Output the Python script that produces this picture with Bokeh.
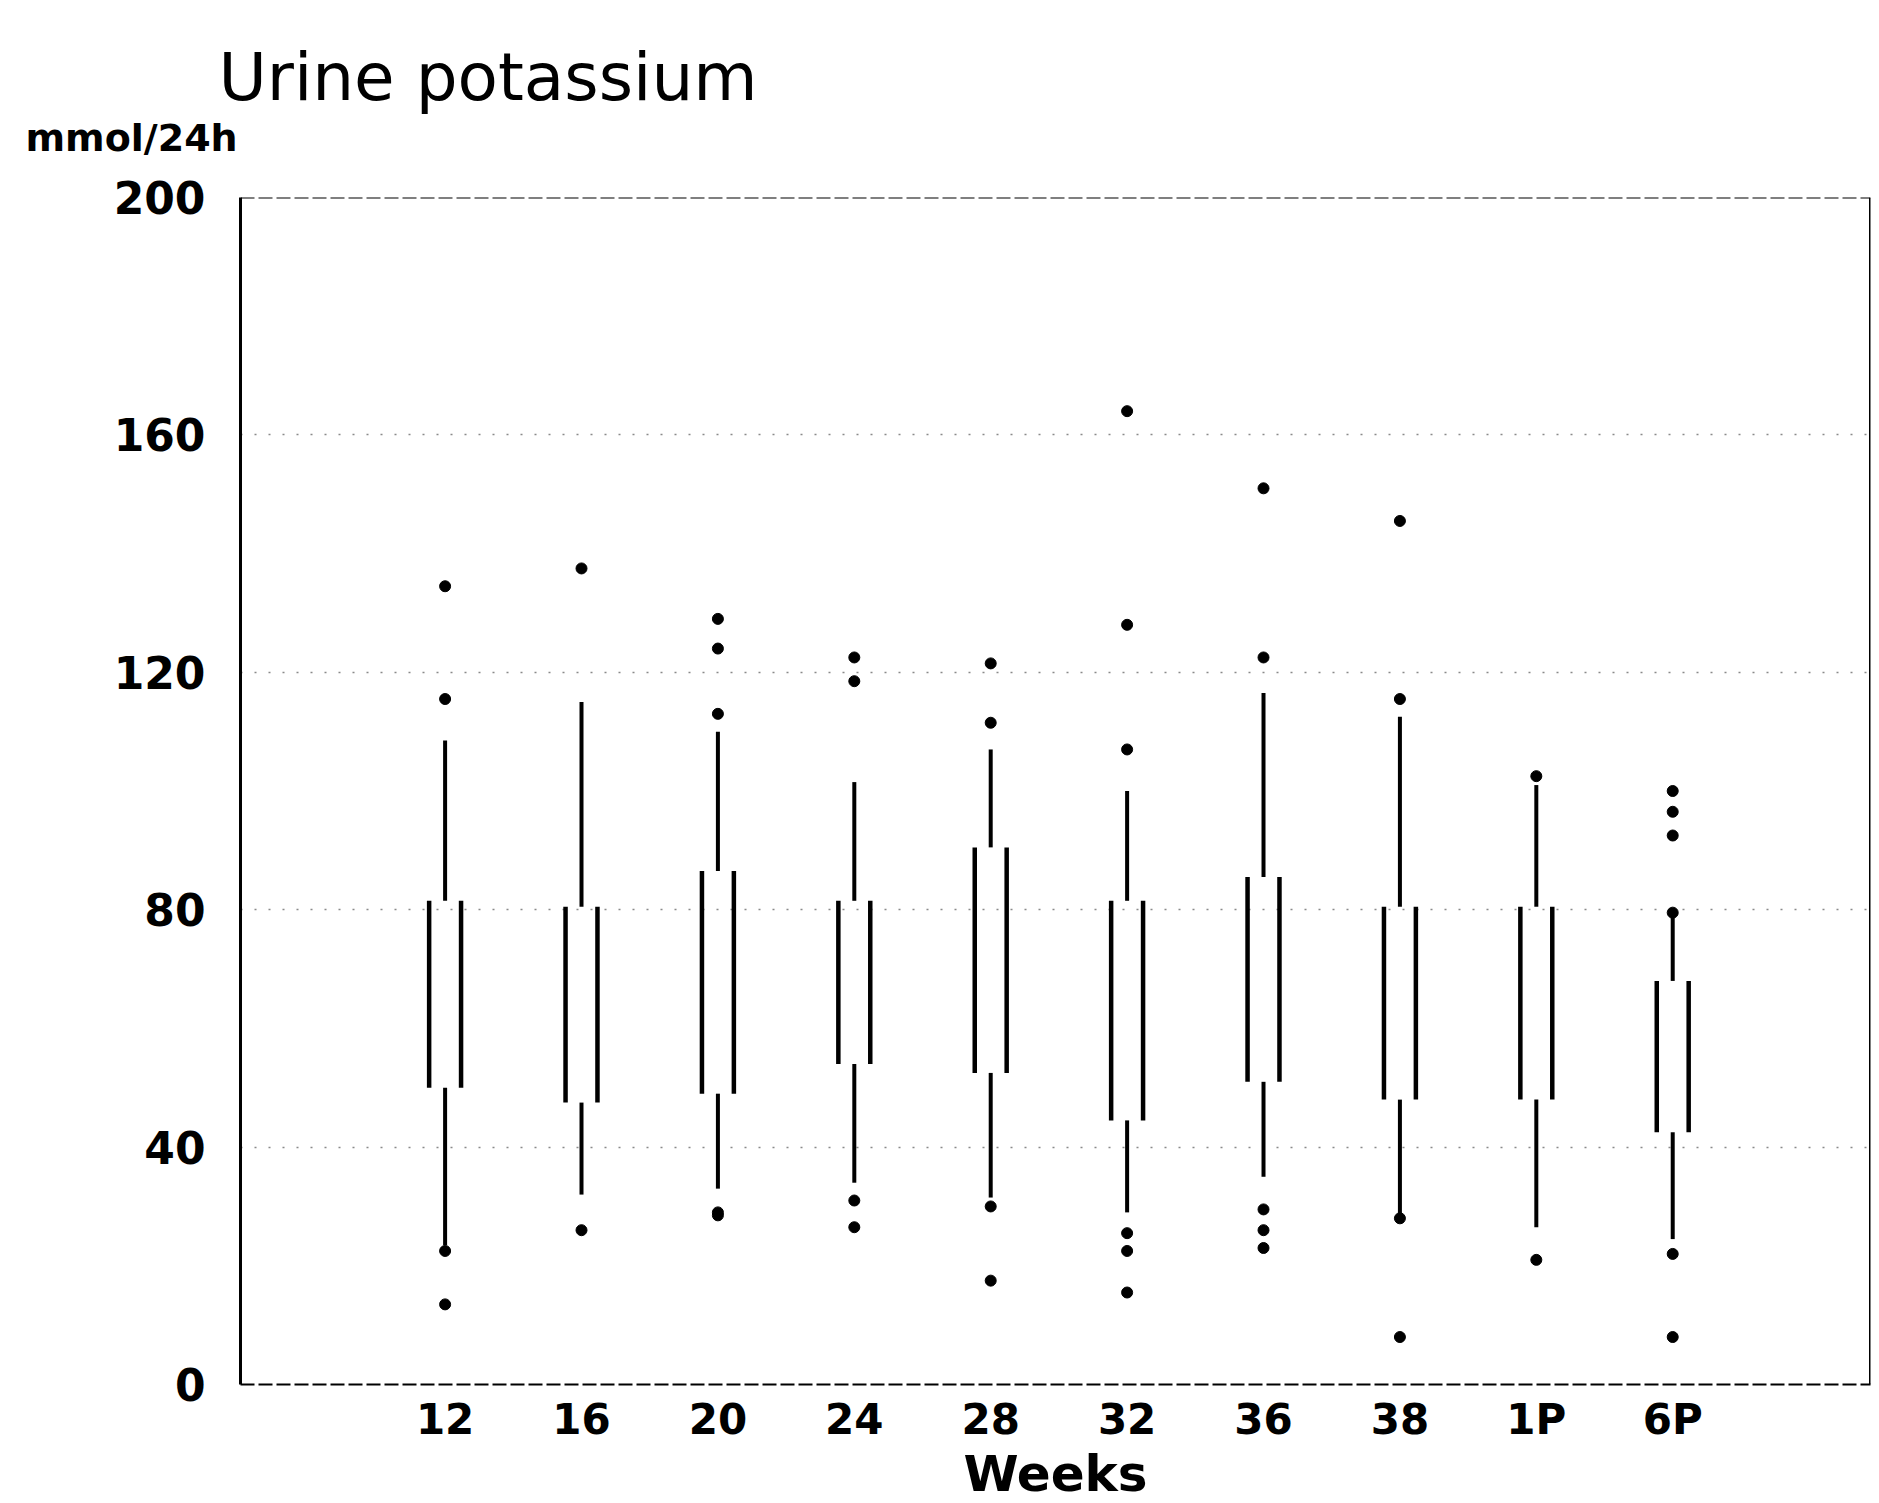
from bokeh.plotting import figure
from bokeh.models import FixedTicker, Span, ColumnDataSource, Title
from bokeh.embed import file_html
from bokeh.resources import INLINE

# ---- data ----
weeks = ["12", "16", "20", "24", "28", "32", "36", "38", "1P", "6P"]
whisker_low = [23.5, 32, 33, 34, 31.5, 29, 35, 28.5, 26.5, 24.5]
q1 = [50, 47.5, 49, 54, 52.5, 44.5, 51, 48, 48, 42.5]
median = [63, 63, 64, 63.5, 63, 62, 66, 64.5, 63, 61]
q3 = [81.5, 80.5, 86.5, 81.5, 90.5, 81.5, 85.5, 80.5, 80.5, 68]
whisker_high = [108.5, 115, 110, 101.5, 107, 100, 116.5, 112.5, 101, 80]

outlier_week = ["12", "12", "12", "12",
                "16", "16",
                "20", "20", "20", "20", "20",
                "24", "24", "24", "24",
                "28", "28", "28", "28",
                "32", "32", "32", "32", "32", "32",
                "36", "36", "36", "36", "36",
                "38", "38", "38", "38",
                "1P", "1P",
                "6P", "6P", "6P", "6P", "6P", "6P"]
outlier_value = [134.5, 115.5, 22.5, 13.5,
                 137.5, 26,
                 129, 124, 113, 29, 28.5,
                 122.5, 118.5, 31, 26.5,
                 121.5, 111.5, 30, 17.5,
                 164, 128, 107, 25.5, 22.5, 15.5,
                 151, 122.5, 29.5, 26, 23,
                 145.5, 115.5, 28, 8,
                 102.5, 21,
                 100, 96.5, 92.5, 79.5, 22, 8]

y_ticks = [0, 40, 80, 120, 160, 200]

FONT = "DejaVu Sans"
pos = {w: i + 1 for i, w in enumerate(weeks)}
xs = [pos[w] for w in weeks]
half = 0.117

p = figure(frame_width=1630, frame_height=1187, x_range=(-0.5, 11.45), y_range=(0, 200),
           output_backend="svg", toolbar_location=None, title=None,
           min_border_left=240, min_border_right=4, min_border_top=197,
           min_border_bottom=20)
p.outline_line_color = None
p.background_fill_color = "white"
p.border_fill_color = "white"

# titles (main title on top, unit line just above the frame)
unit_title = Title(text="mmol/24h", align="left", offset=-215,
                   vertical_align="top", text_font=FONT, text_font_size="38px",
                   text_font_style="bold", text_color="black", standoff=72)
main_title = Title(text="Urine potassium", align="left", offset=-22,
                   vertical_align="bottom", text_font=FONT, text_font_size="66px",
                   text_font_style="normal", text_color="black", standoff=-72)
p.above = [unit_title, main_title]

# axes
p.yaxis.ticker = FixedTicker(ticks=y_ticks)
p.yaxis.axis_line_width = 3
p.yaxis.axis_line_color = "black"
p.yaxis.major_tick_line_color = None
p.yaxis.minor_tick_line_color = None
p.yaxis.major_tick_out = 0
p.yaxis.major_tick_in = 0
p.yaxis.major_label_standoff = 35
p.yaxis.major_label_text_font = FONT
p.yaxis.major_label_text_font_size = "44px"
p.yaxis.major_label_text_font_style = "bold"
p.yaxis.major_label_text_color = "black"

p.xaxis.ticker = FixedTicker(ticks=xs)
p.xaxis.major_label_overrides = {pos[w]: w for w in weeks}
p.xaxis.axis_line_color = "black"
p.xaxis.axis_line_width = 2
p.xaxis.axis_line_dash = "14 4"
p.xaxis.major_tick_line_color = None
p.xaxis.minor_tick_line_color = None
p.xaxis.major_tick_out = 0
p.xaxis.major_tick_in = 0
p.xaxis.major_label_standoff = 10
p.xaxis.major_label_text_font = FONT
p.xaxis.major_label_text_font_size = "42px"
p.xaxis.major_label_text_font_style = "bold"
p.xaxis.major_label_text_color = "black"
p.xaxis.axis_label = "Weeks"
p.xaxis.axis_label_text_font = FONT
p.xaxis.axis_label_text_font_size = "50px"
p.xaxis.axis_label_text_font_style = "bold"
p.xaxis.axis_label_text_color = "black"
p.xaxis.axis_label_standoff = -2

p.xgrid.grid_line_color = None
p.ygrid.ticker = FixedTicker(ticks=[40, 80, 120, 160])
p.ygrid.grid_line_color = "#8a8a8a"
p.ygrid.grid_line_dash = "2 12"
p.ygrid.grid_line_width = 1.5

# frame borders (top dashed, right solid)
p.add_layout(Span(location=200, dimension="width", line_color="black",
                  line_width=2, line_dash="14 4"))
p.add_layout(Span(location=11.45, dimension="height", line_color="black",
                  line_width=3))

# boxes
src = ColumnDataSource(dict(x=xs, lo=whisker_low, q1=q1, med=median, q3=q3,
                            hi=whisker_high,
                            xl=[x - half for x in xs], xr=[x + half for x in xs]))
p.segment(x0="x", y0="lo", x1="x", y1="q1", source=src, line_color="black", line_width=4)
p.segment(x0="x", y0="q3", x1="x", y1="hi", source=src, line_color="black", line_width=4)
p.segment(x0="xl", y0="q1", x1="xl", y1="q3", source=src, line_color="black", line_width=4.5)
p.segment(x0="xr", y0="q1", x1="xr", y1="q3", source=src, line_color="black", line_width=4.5)

# outliers
p.scatter(x=[pos[w] for w in outlier_week], y=outlier_value, size=11,
          marker="circle", fill_color="black", line_color="black")

open("out.html", "w").write(file_html(p, INLINE))
